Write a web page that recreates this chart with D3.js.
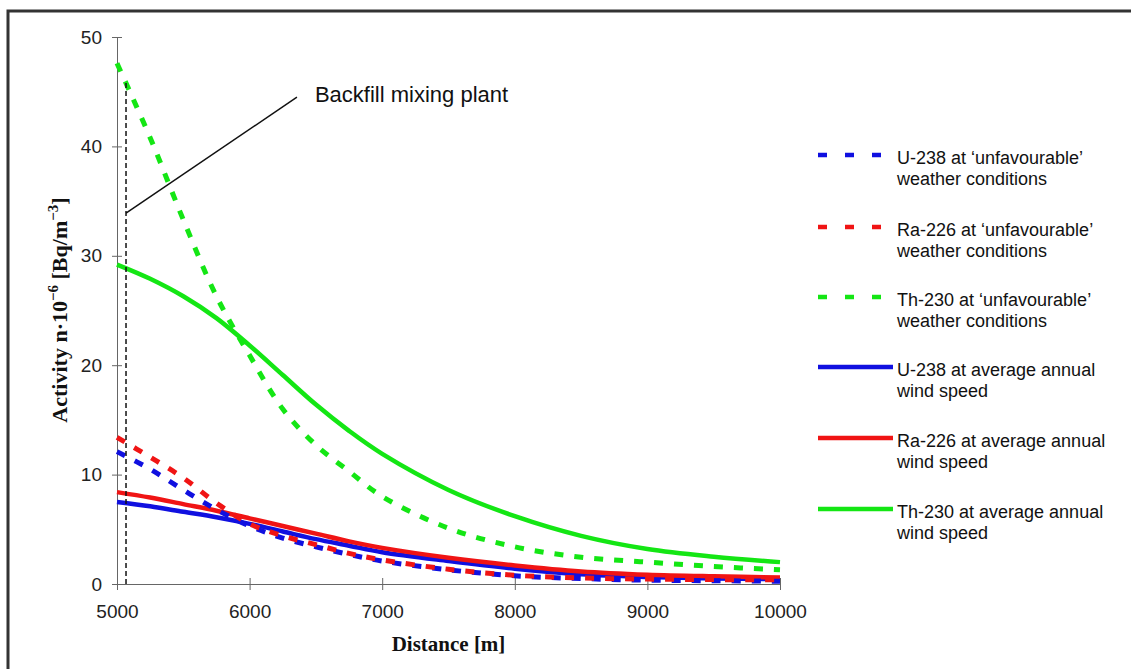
<!DOCTYPE html>
<html>
<head>
<meta charset="utf-8">
<script src="https://cdn.jsdelivr.net/npm/d3@7"></script>
<style>
  body { margin: 0; background: #fff; }
  text { font-family: "Liberation Sans", Arial, sans-serif; }
</style>
</head>
<body>
<script>
// distances along the x axis [m]
let distances = [5000, 5250, 5500, 5750, 6000, 6250, 6500, 6750, 7000, 7500, 8000, 8500, 9000, 9500, 10000];

// activity values n*10^-6 [Bq/m^-3]
let u238Unfav  = [12.1, 10.5, 8.6, 6.8, 5.3, 4.2, 3.4, 2.7, 2.1, 1.3, 0.75, 0.5, 0.35, 0.3, 0.25];
let ra226Unfav = [13.4, 11.6, 9.7, 7.4, 5.5, 4.4, 3.6, 2.8, 2.2, 1.35, 0.8, 0.55, 0.45, 0.4, 0.4];
let th230Unfav = [47.6, 40.8, 33.3, 26.3, 20.9, 16.0, 12.7, 10.3, 8.0, 5.1, 3.4, 2.45, 2.0, 1.6, 1.3];
let u238Avg    = [7.5, 7.1, 6.6, 6.1, 5.5, 4.8, 4.1, 3.5, 2.9, 2.1, 1.4, 0.9, 0.65, 0.5, 0.45];
let ra226Avg   = [8.4, 7.9, 7.3, 6.7, 6.0, 5.3, 4.6, 3.9, 3.3, 2.4, 1.7, 1.15, 0.85, 0.7, 0.6];
let th230Avg   = [29.2, 27.9, 26.3, 24.3, 21.8, 19.1, 16.4, 14.0, 11.9, 8.6, 6.2, 4.4, 3.2, 2.5, 2.0];

let xTicks = [5000, 6000, 7000, 8000, 9000, 10000];
let yTicks = [0, 10, 20, 30, 40, 50];

// plant position and annotation
let plantX = 5068, plantTop = 45.8;
let labelFrom = [5068, 33.9], labelTo = [6357, 44.5];

let blue = "#1010e0", red = "#f01414", green = "#14e614";

let series = [
  { name: ["U-238 at average annual", "wind speed"], values: u238Avg, color: blue, dashed: false },
  { name: ["Ra-226 at average annual", "wind speed"], values: ra226Avg, color: red, dashed: false },
  { name: ["Th-230 at average annual", "wind speed"], values: th230Avg, color: green, dashed: false },
  { name: ["U-238 at \u2018unfavourable\u2019", "weather conditions"], values: u238Unfav, color: blue, dashed: true },
  { name: ["Ra-226 at \u2018unfavourable\u2019", "weather conditions"], values: ra226Unfav, color: red, dashed: true },
  { name: ["Th-230 at \u2018unfavourable\u2019", "weather conditions"], values: th230Unfav, color: green, dashed: true }
];

let W = 1131, H = 669;
let margin = { top: 37, left: 117 },
  width = 780 - 117,
  height = 584 - 37;

let root = d3.select("body").append("svg").attr("width", W).attr("height", H);

// frame
root.append("path")
  .attr("d", "M8," + H + " L8,11 L" + W + ",11")
  .attr("fill", "none")
  .attr("stroke", "#333")
  .attr("stroke-width", 3);

let svg = root.append("g")
  .attr("transform", "translate(" + margin.left + "," + margin.top + ")");

let x = d3.scaleLinear().domain([5000, 10000]).range([0, width]);
let y = d3.scaleLinear().domain([0, 50]).range([height, 0]);

// axes
let xAxis = svg.append("g")
  .attr("transform", "translate(0," + height + ")")
  .call(d3.axisBottom(x).tickValues(xTicks).tickFormat(d3.format("d")).tickSize(6).tickSizeOuter(0));
xAxis.selectAll(".tick line").attr("y1", -6).attr("y2", 6);
xAxis.selectAll(".tick text").attr("dy", 0).attr("y", 34);

let yAxis = svg.append("g")
  .call(d3.axisLeft(y).tickValues(yTicks).tickSize(5).tickSizeOuter(0));
yAxis.selectAll(".tick line").attr("x1", 5).attr("x2", -5);
yAxis.selectAll(".tick text").attr("x", -15);

[xAxis, yAxis].forEach(function (a) {
  a.select(".domain").attr("stroke", "#666");
  a.selectAll(".tick line").attr("stroke", "#666");
  a.selectAll(".tick text")
    .attr("fill", "#222")
    .style("font-size", "19px")
    .style("font-family", "'Liberation Sans', Arial, sans-serif");
});

// axis titles
svg.append("text")
  .attr("x", width / 2)
  .attr("y", 651 - margin.top)
  .attr("text-anchor", "middle")
  .style("font-family", "'Liberation Serif', 'Times New Roman', serif")
  .style("font-weight", "bold")
  .style("font-size", "21px")
  .attr("fill", "#111")
  .text("Distance [m]");

let yTitle = svg.append("text")
  .attr("transform", "translate(" + (67 - margin.left) + "," + (310 - margin.top) + ") rotate(-90)")
  .attr("text-anchor", "middle")
  .style("font-family", "'Liberation Serif', 'Times New Roman', serif")
  .style("font-weight", "bold")
  .style("font-size", "22px")
  .attr("fill", "#111");
yTitle.append("tspan").text("Activity n\u00b710");
yTitle.append("tspan").attr("dy", -9).style("font-size", "15px").text("\u22126");
yTitle.append("tspan").attr("dy", 9).text(" [Bq/m");
yTitle.append("tspan").attr("dy", -9).style("font-size", "15px").text("\u22123");
yTitle.append("tspan").attr("dy", 9).text("]");

// lines
let line = d3.line()
  .x(function (d, i) { return x(distances[i]); })
  .y(function (d) { return y(d); })
  .curve(d3.curveCatmullRom.alpha(0.5));

svg.selectAll(".series")
  .data(series)
  .enter()
  .append("path")
  .attr("class", "series")
  .attr("d", function (d) { return line(d.values); })
  .attr("fill", "none")
  .attr("stroke", function (d) { return d.color; })
  .attr("stroke-width", function (d) { return d.dashed ? 5 : 4.5; })
  .attr("stroke-dasharray", function (d) { return d.dashed ? "9,11" : null; });

// plant marker and annotation
svg.append("line")
  .attr("x1", x(plantX)).attr("x2", x(plantX))
  .attr("y1", y(0)).attr("y2", y(plantTop))
  .attr("stroke", "#111")
  .attr("stroke-width", 1.5)
  .attr("stroke-dasharray", "5,3");

svg.append("line")
  .attr("x1", x(labelFrom[0])).attr("y1", y(labelFrom[1]))
  .attr("x2", x(labelTo[0])).attr("y2", y(labelTo[1]))
  .attr("stroke", "#111")
  .attr("stroke-width", 1.5);

svg.append("text")
  .attr("x", x(labelTo[0]) + 18)
  .attr("y", y(labelTo[1]) + 5)
  .style("font-size", "22px")
  .attr("fill", "#111")
  .text("Backfill mixing plant");

// legend, unfavourable first
let legendOrder = [3, 4, 5, 0, 1, 2];
let legendY = [155, 227, 297, 367, 438, 509];

let legend = root.selectAll(".legend")
  .data(legendOrder)
  .enter()
  .append("g")
  .attr("class", "legend")
  .attr("transform", function (d, i) { return "translate(818," + legendY[i] + ")"; });

legend.append("line")
  .attr("x1", 0)
  .attr("x2", function (d) { return series[d].dashed ? 64 : 75; })
  .attr("stroke", function (d) { return series[d].color; })
  .attr("stroke-width", 4.5)
  .attr("stroke-dasharray", function (d) { return series[d].dashed ? "9,18" : null; });

legend.append("text")
  .attr("x", 79)
  .attr("y", 9)
  .style("font-size", "18px")
  .attr("fill", "#111")
  .each(function (d) {
    let t = d3.select(this);
    series[d].name.forEach(function (s, k) {
      t.append("tspan").attr("x", 79).attr("dy", k ? 21 : 0).text(s);
    });
  });
</script>
</body>
</html>
